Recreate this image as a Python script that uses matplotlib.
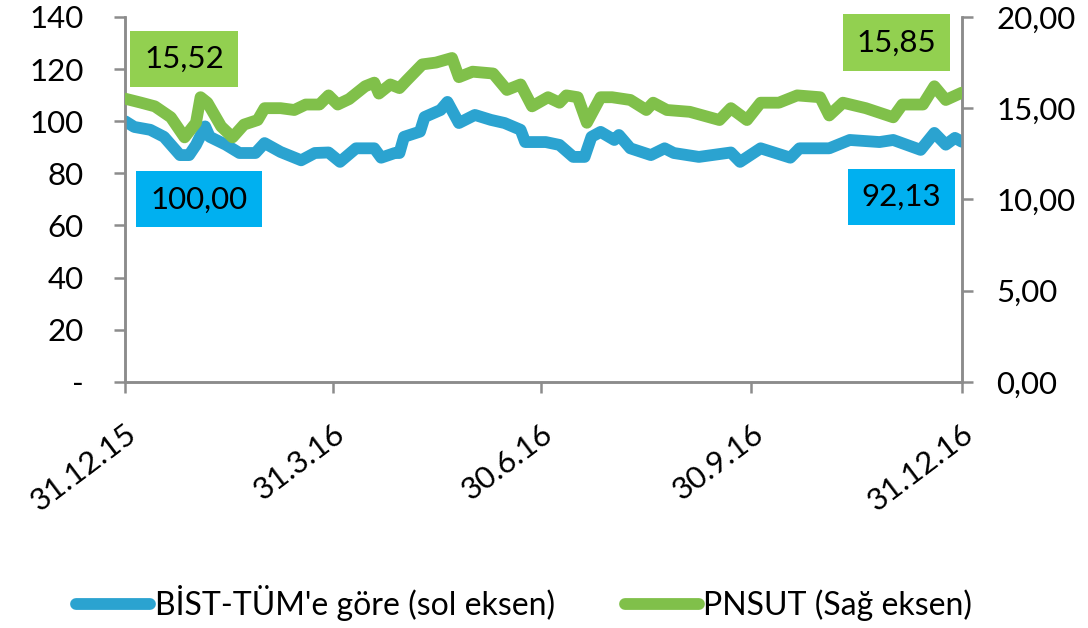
import numpy as np
import pandas as pd
import matplotlib
matplotlib.use("Agg")
import matplotlib.pyplot as plt
from matplotlib.lines import Line2D

plt.rcParams['font.family'] = ['Lato', 'DejaVu Sans']

# --- data ---
start = pd.Timestamp("2015-12-31")

# BIST-TUM relative series (left axis), day offsets from 31.12.15
bist_days = [0, 4, 11, 17, 24, 28, 31, 35, 37, 44, 50, 57, 61, 68, 77, 83, 89, 94,
             101, 109, 112, 118, 120, 122, 129, 131, 138, 141, 146, 153, 160, 166,
             173, 175, 184, 190, 196, 201, 204, 208, 214, 216, 221, 230, 236, 240,
             251, 265, 269, 278, 291, 295, 308, 317, 330, 336, 348, 354, 359, 363, 366]
bist_vals = [100.0, 97.8, 96.7, 94.0, 87.0, 87.0, 90.9, 98.0, 94.0, 91.0, 87.8, 87.8,
             91.6, 88.2, 85.0, 87.8, 88.0, 84.4, 89.6, 89.6, 86.0, 87.8, 87.8, 94.0,
             96.0, 101.6, 104.3, 107.4, 99.3, 102.4, 100.5, 99.3, 96.7, 92.0, 92.0,
             90.9, 86.3, 86.3, 94.0, 95.9, 92.8, 94.7, 89.6, 87.0, 89.6, 87.8, 86.3,
             88.0, 84.4, 89.6, 86.0, 89.6, 89.6, 92.8, 92.0, 92.8, 89.0, 95.5, 91.0,
             93.6, 92.13]

# PNSUT price (right axis)
pnsut_days = [0, 7, 13, 20, 26, 31, 33, 36, 42, 47, 52, 58, 61, 68, 74, 79, 85, 89,
              93, 98, 105, 109, 111, 116, 120, 123, 130, 136, 143, 146, 152, 161, 167,
              173, 178, 185, 190, 193, 198, 202, 208, 213, 221, 228, 231, 237, 247,
              260, 265, 272, 278, 286, 294, 304, 308, 314, 324, 336, 340, 349, 354,
              359, 366]
pnsut_vals = [15.52, 15.3, 15.1, 14.5, 13.4, 14.2, 15.6, 15.3, 14.0, 13.4, 14.1, 14.35,
              15.0, 15.0, 14.9, 15.2, 15.2, 15.7, 15.2, 15.5, 16.2, 16.4, 15.8, 16.3,
              16.1, 16.5, 17.4, 17.5, 17.75, 16.7, 17.0, 16.9, 16.0, 16.3, 15.1, 15.6,
              15.3, 15.7, 15.6, 14.2, 15.6, 15.6, 15.45, 14.9, 15.3, 14.9, 14.8, 14.35,
              15.0, 14.35, 15.3, 15.3, 15.7, 15.6, 14.6, 15.3, 15.0, 14.5, 15.2, 15.2,
              16.2, 15.45, 15.85]

tick_dates = ["2015-12-31", "2016-03-31", "2016-06-30", "2016-09-30", "2016-12-31"]
tick_labels = ["31.12.15", "31.3.16", "30.6.16", "30.9.16", "31.12.16"]
left_ticks = [0, 20, 40, 60, 80, 100, 120, 140]
left_labels = ["-", "20", "40", "60", "80", "100", "120", "140"]
right_ticks = [0, 5, 10, 15, 20]
right_labels = ["0,00", "5,00", "10,00", "15,00", "20,00"]

labels = ["BİST-TÜM'e göre (sol eksen)", "PNSUT (Sağ eksen)"]

blue = "#2ba3d0"
green = "#80c04a"
gray = "#8c8c8c"

bist_x = start + pd.to_timedelta(bist_days, unit="D")
pnsut_x = start + pd.to_timedelta(pnsut_days, unit="D")

fig = plt.figure(figsize=(10.88, 6.28), dpi=100)
ax = fig.add_axes([0.115, 0.392, 0.769, 0.581])
ax2 = ax.twinx()

ax.plot(bist_x, bist_vals, color=blue, lw=8.5, solid_capstyle="round",
        solid_joinstyle="round", zorder=3)
ax2.plot(pnsut_x, pnsut_vals, color=green, lw=8.5, solid_capstyle="round",
         solid_joinstyle="round", zorder=3)

ax.set_ylim(0, 140)
ax2.set_ylim(0, 20)
ax.set_xlim(pd.Timestamp(tick_dates[0]), pd.Timestamp(tick_dates[-1]))

ax.set_yticks(left_ticks)
ax.set_yticklabels(left_labels)
ax2.set_yticks(right_ticks)
ax2.set_yticklabels(right_labels)
ax.set_xticks(pd.to_datetime(tick_dates))
ax.set_xticklabels(tick_labels, rotation=37, ha="right", va="top",
                   rotation_mode="anchor", fontsize=24)

for a in (ax, ax2):
    a.spines["top"].set_visible(False)
    for s in ("left", "right", "bottom"):
        a.spines[s].set_color(gray)
        a.spines[s].set_linewidth(1.8)
    a.tick_params(colors=gray, width=1.8, length=8, labelsize=22.5,
                  labelcolor="black")
ax.tick_params(axis="y", pad=22)
ax2.tick_params(axis="y", pad=17)
ax.tick_params(axis="x", pad=19)

# value boxes
box = dict(boxstyle="square,pad=0.45", ec="none")
ax.text(0.0705, 0.885, "15,52", transform=ax.transAxes, fontsize=22.5, ha="center",
        va="center", bbox=dict(box, fc="#92d050"), zorder=5)
ax.text(0.0884, 0.50, "100,00", transform=ax.transAxes, fontsize=22.5, ha="center",
        va="center", bbox=dict(box, fc="#00b0f0"), zorder=5)
ax.text(0.922, 0.93, "15,85", transform=ax.transAxes, fontsize=22.5, ha="center",
        va="center", bbox=dict(box, fc="#92d050"), zorder=5)
ax.text(0.928, 0.507, "92,13", transform=ax.transAxes, fontsize=22.5, ha="center",
        va="center", bbox=dict(box, fc="#00b0f0"), zorder=5)

handles = [Line2D([], [], color=blue, lw=8.5, solid_capstyle="round"),
           Line2D([], [], color=green, lw=8.5, solid_capstyle="round")]
fig.legend(handles, labels, loc="center", bbox_to_anchor=(0.482, 0.04), ncol=2,
           frameon=False, fontsize=23, handlelength=2.3, handletextpad=0.15,
           columnspacing=2.2)

fig.savefig("out.png", dpi=100)
